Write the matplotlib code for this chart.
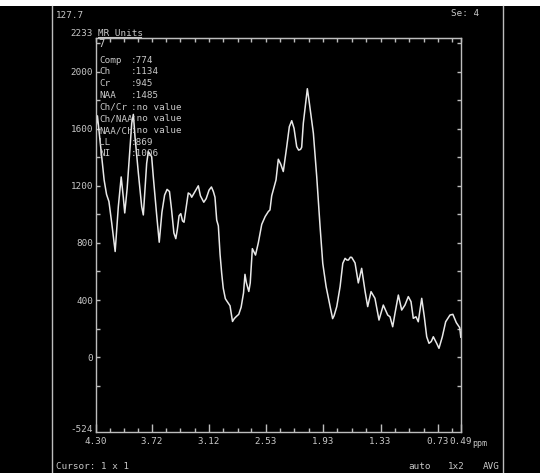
import matplotlib
matplotlib.use('Agg')
import matplotlib.pyplot as plt
from matplotlib.lines import Line2D
from matplotlib.patches import Rectangle

# spectrum
ppm = [4.300, 4.285, 4.265, 4.241, 4.215, 4.190, 4.165, 4.136, 4.100, 4.067,
       4.037, 4.015, 4.000, 3.975, 3.952, 3.927, 3.910, 3.893, 3.858, 3.823,
       3.806, 3.789, 3.771, 3.754, 3.719, 3.702, 3.666, 3.640, 3.612, 3.584,
       3.558, 3.533, 3.512, 3.487, 3.467, 3.451, 3.433, 3.415, 3.397, 3.381,
       3.361, 3.337, 3.315, 3.301, 3.275, 3.232, 3.210, 3.175, 3.150, 3.120,
       3.095, 3.075, 3.058, 3.040, 3.023, 3.005, 2.988, 2.972, 2.950, 2.936,
       2.911, 2.901, 2.875, 2.857, 2.835, 2.810, 2.785, 2.760, 2.745, 2.730,
       2.705, 2.690, 2.668, 2.635, 2.606, 2.570, 2.534, 2.501, 2.484, 2.466,
       2.449, 2.421, 2.397, 2.372, 2.345, 2.309, 2.282, 2.257, 2.233, 2.205,
       2.185, 2.165, 2.153, 2.136, 2.115, 2.094, 2.075, 2.059, 2.031, 1.996,
       1.961, 1.933, 1.898, 1.870, 1.856, 1.830, 1.815, 1.787, 1.752, 1.724,
       1.700, 1.680, 1.665, 1.645, 1.631, 1.596, 1.562, 1.527, 1.491, 1.464,
       1.429, 1.388, 1.346, 1.301, 1.255, 1.231, 1.203, 1.179, 1.144, 1.109,
       1.075, 1.040, 1.012, 0.988, 0.960, 0.936, 0.900, 0.873, 0.848, 0.824,
       0.800, 0.779, 0.744, 0.720, 0.685, 0.650, 0.605, 0.575, 0.539, 0.503,
       0.492]
signal = [1610, 1690, 1560, 1404, 1240, 1140, 1090, 940, 740, 1054,
          1262, 1120, 1010, 1180, 1404, 1638, 1700, 1544, 1290, 1054,
          996, 1171, 1358, 1439, 1404, 1264, 990, 805, 1014, 1135,
          1175, 1160, 1038, 870, 830, 894, 990, 1005, 954, 945,
          1038, 1150, 1140, 1120, 1150, 1200, 1130, 1085, 1110, 1170,
          1192, 1160, 1120, 960, 920, 720, 587, 484, 410, 395,
          370, 360, 250, 270, 285, 300, 350, 450, 580, 520,
          460, 520, 760, 715, 800, 930, 985, 1020, 1031, 1130,
          1171, 1241, 1386, 1352, 1300, 1474, 1614, 1656, 1603, 1474,
          1450, 1455, 1470, 1638, 1760, 1880, 1790, 1708, 1568, 1264,
          914, 657, 494, 400, 354, 270, 290, 354, 494, 657,
          692, 680, 680, 700, 699, 660, 520, 622, 460, 354,
          459, 412, 260, 365, 295, 283, 213, 307, 435, 330,
          365, 424, 389, 272, 283, 248, 412, 283, 143, 97,
          110, 143, 97, 62, 143, 248, 295, 300, 242, 206,
          140]

x_major = [4.30, 3.72, 3.12, 2.53, 1.93, 1.33, 0.73, 0.49]
x_major_labels = ['4.30', '3.72', '3.12', '2.53', '1.93', '1.33', '0.73', '0.49']
x_minor = [4.155, 4.01, 3.865, 3.57, 3.42, 3.27, 2.97, 2.82, 2.68,
           2.38, 2.23, 2.08, 1.78, 1.63, 1.48, 1.18, 1.03, 0.88, 0.58]
y_major = [0, 400, 800, 1200, 1600, 2000]
y_minor = [-200, 200, 600, 1000, 1400, 1800, 2200]
y_bottom, y_top = -524, 2233

info_names = ['Comp', 'Ch', 'Cr', 'NAA', 'Ch/Cr', 'Ch/NAA', 'NAA/Ch', 'LL', 'NI']
info_values = [':774', ':1134', ':945', ':1485', ':no value', ':no value',
               ':no value', ':869', ':1006']

W, H = 540, 473
FS = 6.7
TXT = '#c8c8c8'
LINE = '#bdbdbd'
plt.rcParams['font.family'] = ['DejaVu Sans Mono']

def fpos(x, y):
    # screen pixel (from top-left) -> figure fraction
    return x / W, 1 - y / H

fig = plt.figure(figsize=(W / 100, H / 100), dpi=100, facecolor='black')

# plot area
l, b = fpos(96, 432)
r, t = fpos(461, 38.3)
ax = fig.add_axes([l, b, r - l, t - b], facecolor='black')
ax.plot(ppm, signal, color='#e8e8e8', lw=1.1)
ax.set_xlim(4.30, 0.49)
ax.set_ylim(y_bottom, y_top)

for s in ax.spines.values():
    s.set_color(LINE)
    s.set_linewidth(1.0)

ax.set_xticks(x_major)
ax.set_xticklabels(x_major_labels)
ax.set_xticks(x_minor, minor=True)
ax.set_yticks(y_major)
ax.set_yticks(y_minor, minor=True)
ax.tick_params(axis='x', which='major', direction='in', length=5.5, width=1,
               color=LINE, labelcolor=TXT, labelsize=FS, pad=3.5, top=False)
ax.tick_params(axis='x', which='minor', direction='in', length=2.8, width=1,
               color=LINE, top=False)
ax.tick_params(axis='y', which='both', direction='in', length=3, width=1,
               color=LINE, labelcolor=TXT, labelsize=FS, pad=2, right=True)

# short ticks along the top edge
top = ax.secondary_xaxis('top')
top.set_xticks(x_major + x_minor)
top.tick_params(direction='in', length=3, width=1, color=LINE, labeltop=False)
top.spines['top'].set_color(LINE)

# end-of-scale labels
ax.text(-0.008, 1.0, '2233', transform=ax.transAxes, ha='right', va='bottom',
        color=TXT, fontsize=FS)
ax.text(-0.008, 0.0, '-524', transform=ax.transAxes, ha='right', va='baseline',
        color=TXT, fontsize=FS)

# header text
fig.text(*fpos(98, 33), 'MR Units', color=TXT, fontsize=FS, ha='left', va='center')
fig.add_artist(Line2D([98 / W, 141 / W], [1 - 37.5 / H, 1 - 37.5 / H], color=TXT, lw=0.8))
fig.text(*fpos(56, 15), '127.7', color=TXT, fontsize=FS, ha='left', va='center')
fig.text(*fpos(451, 13), 'Se: 4', color=TXT, fontsize=FS, ha='left', va='center')

# metabolite readout
fig.text(*fpos(98.5, 44), '7', color=TXT, fontsize=7.5, ha='left', va='center')
for i, (name, val) in enumerate(zip(info_names, info_values)):
    y = 60.3 + i * 11.7
    fig.text(*fpos(99, y), name, color=TXT, fontsize=FS, ha='left', va='center')
    fig.text(*fpos(131, y), val, color=TXT, fontsize=FS, ha='left', va='center')

# footer
fig.text(*fpos(472, 443), 'ppm', color=TXT, fontsize=6, ha='left', va='center')
fig.text(*fpos(56, 466.5), 'Cursor: 1 x 1', color=TXT, fontsize=FS, ha='left', va='center')
fig.text(*fpos(408, 466.5), 'auto', color=TXT, fontsize=FS, ha='left', va='center')
fig.text(*fpos(448, 466.5), '1x2', color=TXT, fontsize=FS, ha='left', va='center')
fig.text(*fpos(483, 466.5), 'AVG', color=TXT, fontsize=FS, ha='left', va='center')

# panel frame lines and the light strip at the very top
for xp in (52.3, 503.3):
    fig.add_artist(Line2D([xp / W, xp / W], [0, 1 - 6.5 / H], color=LINE, lw=1.0))
fig.add_artist(Rectangle((0, 1 - 6.5 / H), 1, 6.5 / H, transform=fig.transFigure,
                         facecolor='white', edgecolor='none'))

fig.savefig('out.png', dpi=100, facecolor='black')
